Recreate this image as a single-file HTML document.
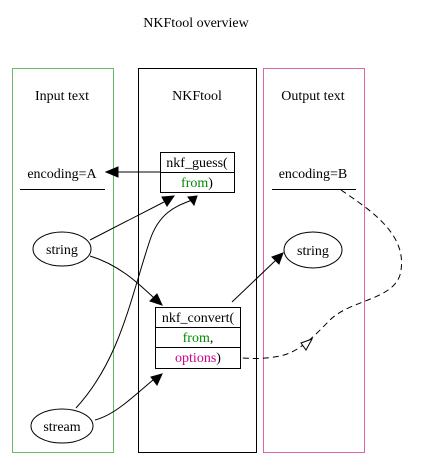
<!DOCTYPE html>
<html><head><meta charset="utf-8"><style>body{margin:0;background:#fff}svg{display:block}</style></head><body>
<svg width="432" height="464" viewBox="0 0 432 464" xmlns="http://www.w3.org/2000/svg">
<g font-family="'Liberation Serif', 'Times New Roman', serif" font-size="14" text-anchor="middle">
<text x="196" y="27">NKFtool overview</text>
<text x="62" y="100">Input text</text>
<text x="197" y="100">NKFtool</text>
<text x="313" y="100">Output text</text>
<text x="62" y="178">encoding=A</text>
<text x="313" y="178">encoding=B</text>
</g>
<rect x="12.5" y="68.5" width="101" height="384" fill="none" stroke="#66bb66" stroke-width="1"/>
<rect x="138.5" y="68.5" width="118" height="384" fill="none" stroke="#000" stroke-width="1"/>
<rect x="263.5" y="68.5" width="101" height="384" fill="none" stroke="#dd66aa" stroke-width="1"/>
<line x1="20" y1="189.5" x2="105" y2="189.5" stroke="#000"/>
<line x1="272" y1="189.5" x2="356" y2="189.5" stroke="#000"/>
<rect x="160.5" y="152.5" width="74" height="40" fill="#fff" stroke="#000"/>
<line x1="160" y1="172.5" x2="234" y2="172.5" stroke="#000"/>
<rect x="155.5" y="307.5" width="85" height="61" fill="#fff" stroke="#000"/>
<line x1="155" y1="327.5" x2="240" y2="327.5" stroke="#000"/>
<line x1="155" y1="347.5" x2="240" y2="347.5" stroke="#000"/>
<ellipse cx="62" cy="249" rx="29" ry="17" fill="none" stroke="#000"/>
<ellipse cx="313" cy="250" rx="29" ry="18" fill="none" stroke="#000"/>
<ellipse cx="62" cy="426" rx="31" ry="17" fill="none" stroke="#000"/>
<g font-family="'Liberation Serif', 'Times New Roman', serif" font-size="14" text-anchor="middle">
<text x="197" y="167">nkf_guess(</text>
<text x="197" y="187"><tspan fill="#008800">from</tspan>)</text>
<text x="198" y="322">nkf_convert(</text>
<text x="198" y="342"><tspan fill="#008800">from</tspan>,</text>
<text x="198" y="362"><tspan fill="#cc0088">options</tspan>)</text>
<text x="62" y="254">string</text>
<text x="313" y="255">string</text>
<text x="62" y="431">stream</text>
</g>
<g stroke="#000" fill="none">
<line x1="160" y1="172" x2="118" y2="172"/>
<path d="M90,240 L164,202"/>
<path d="M76,408 C120,360 130,300 150,240 C160,210 180,205 192,200"/>
<path d="M90,256 C120,265 140,285 154,298"/>
<path d="M95,420 C115,415 135,395 153,380"/>
<path d="M232,302 L276,260"/>
<path d="M341,190 C370,210 410,235 400,275 C392,300 350,300 330,320 C315,335 300,352 280,356 C260,360 250,358 241,358" stroke-dasharray="6,4"/>
</g>
<g fill="#000" stroke="#000">
<polygon points="106,172 118,167 118,177"/>
<polygon points="174,196 162,197 167,206"/>
<polygon points="197,196 188,197 194,205"/>
<polygon points="162,305 150,301 157,294"/>
<polygon points="162,374 151,377 157,385"/>
<polygon points="283,253 272,257 279,264"/>
<polygon points="312,339 301,343 306,350" fill="#fff"/>
</g>
</svg>
</body></html>
